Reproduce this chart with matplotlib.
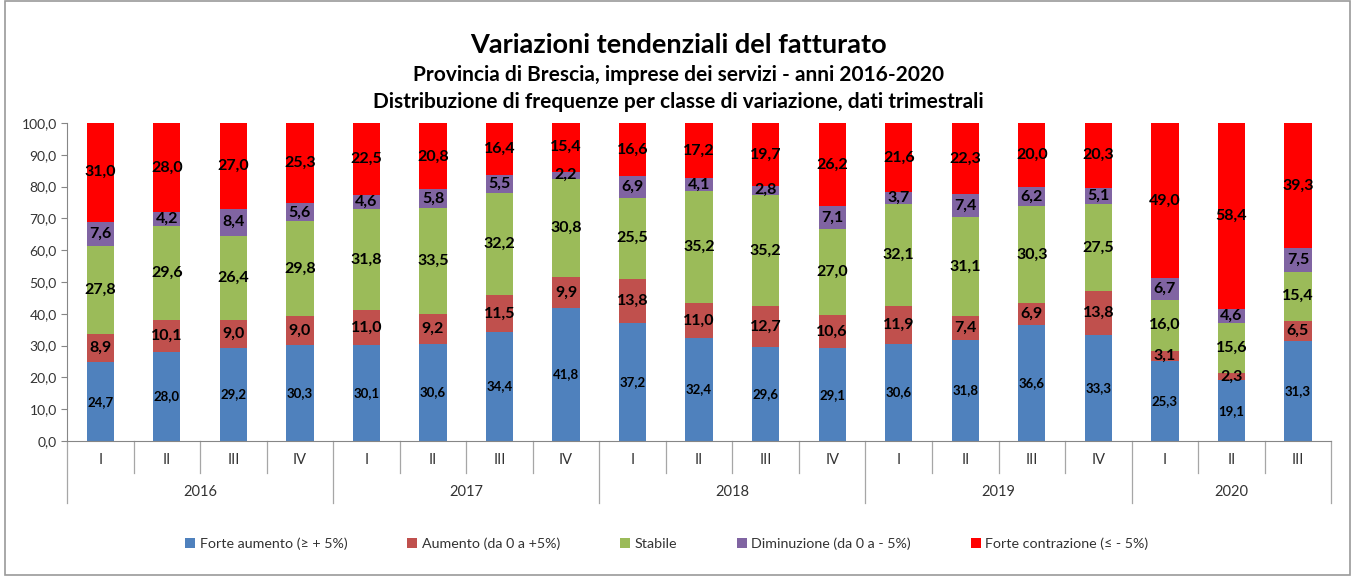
import matplotlib
matplotlib.use("Agg")
import matplotlib.pyplot as plt
import numpy as np
from matplotlib.patches import Rectangle

plt.rcParams['font.family'] = ['Lato', 'DejaVu Sans']

# data (percentages per quarter)
years = ["2016", "2017", "2018", "2019", "2020"]
quarters = ["I", "II", "III", "IV",
            "I", "II", "III", "IV",
            "I", "II", "III", "IV",
            "I", "II", "III", "IV",
            "I", "II", "III"]
quarters_per_year = [4, 4, 4, 4, 3]

forte_aumento = [24.7, 28.0, 29.2, 30.3, 30.1, 30.6, 34.4, 41.8, 37.2, 32.4,
                 29.6, 29.1, 30.6, 31.8, 36.6, 33.3, 25.3, 19.1, 31.3]
aumento = [8.9, 10.1, 9.0, 9.0, 11.0, 9.2, 11.5, 9.9, 13.8, 11.0,
           12.7, 10.6, 11.9, 7.4, 6.9, 13.8, 3.1, 2.3, 6.5]
stabile = [27.8, 29.6, 26.4, 29.8, 31.8, 33.5, 32.2, 30.8, 25.5, 35.2,
           35.2, 27.0, 32.1, 31.1, 30.3, 27.5, 16.0, 15.6, 15.4]
diminuzione = [7.6, 4.2, 8.4, 5.6, 4.6, 5.8, 5.5, 2.2, 6.9, 4.1,
               2.8, 7.1, 3.7, 7.4, 6.2, 5.1, 6.7, 4.6, 7.5]
forte_contrazione = [31.0, 28.0, 27.0, 25.3, 22.5, 20.8, 16.4, 15.4, 16.6, 17.2,
                     19.7, 26.2, 21.6, 22.3, 20.0, 20.3, 49.0, 58.4, 39.3]

series_names = ["Forte aumento (≥ + 5%)", "Aumento (da 0 a +5%)", "Stabile",
                "Diminuzione (da 0 a - 5%)", "Forte contrazione (≤ - 5%)"]
colors = ["#4F81BD", "#C0504D", "#9BBB59", "#8064A2", "#FF0000"]

fig = plt.figure(figsize=(13.57, 5.76), dpi=100)
ax = fig.add_axes([0.0494, 0.2344, 0.9316, 0.5521])

# chart border
fig.patches.append(Rectangle((0.004, 0.002), 0.991, 0.996, transform=fig.transFigure,
                             fill=False, edgecolor="#9a9a9a", linewidth=1.2))

x = np.arange(len(quarters))
data = [forte_aumento, aumento, stabile, diminuzione, forte_contrazione]
bottom = np.zeros(len(quarters))
for i, (vals, name, col) in enumerate(zip(data, series_names, colors)):
    vals = np.array(vals)
    ax.bar(x, vals, 0.41, bottom=bottom, color=col, label=name)
    fs = 9.5 if i == 0 else 11.5
    for xi, b, v in zip(x, bottom, vals):
        ax.text(xi, b + v / 2, f"{v:.1f}".replace(".", ","), ha="center", va="center",
                fontsize=fs, fontweight="bold", color="black")
    bottom += vals

ax.set_xlim(-0.5, len(quarters) - 0.5)
ax.set_ylim(0, 100)
ax.set_yticks(np.arange(0, 101, 10))
ax.set_yticklabels([f"{v:.1f}".replace(".", ",") for v in np.arange(0, 101, 10)])
ax.tick_params(axis="y", labelsize=10, length=4, color="#868686", labelcolor="#333333")
ax.set_xticks([])
for s in ["top", "right"]:
    ax.spines[s].set_visible(False)
for s in ["left", "bottom"]:
    ax.spines[s].set_color("#868686")

# two-level category axis
trans = ax.get_xaxis_transform()
q_drop = -0.10
y_drop = -0.195
for xi, q in zip(x, quarters):
    ax.text(xi, -0.06, q, transform=trans, ha="center", va="center", fontsize=10.5, color="#333333")
start = 0
bounds = [-0.5]
for yr, n in zip(years, quarters_per_year):
    ax.text(start + (n - 1) / 2, -0.16, yr, transform=trans, ha="center", va="center",
            fontsize=10.5, color="#333333")
    start += n
    bounds.append(start - 0.5)
for b in np.arange(-0.5, len(quarters), 1.0):
    depth = y_drop if b in bounds else q_drop
    ax.plot([b, b], [0, depth], transform=trans, color="#a6a6a6", lw=0.9, clip_on=False)

leg = ax.legend(loc="upper center", bbox_to_anchor=(0.4745, -0.262), ncol=5, frameon=False,
                fontsize=10.3, handlelength=0.7, handleheight=0.7, handletextpad=0.3,
                columnspacing=4.2)
for t in leg.get_texts():
    t.set_color("#333333")

fig.text(0.5, 0.922, "Variazioni tendenziali del fatturato", ha="center", va="center",
         fontsize=19.5, fontweight="bold")
fig.text(0.5, 0.869, "Provincia di Brescia, imprese dei servizi - anni 2016-2020", ha="center",
         va="center", fontsize=15, fontweight="bold")
fig.text(0.5, 0.823, "Distribuzione di frequenze per classe di variazione, dati trimestrali",
         ha="center", va="center", fontsize=15, fontweight="bold")

fig.savefig("out.png", dpi=100)
